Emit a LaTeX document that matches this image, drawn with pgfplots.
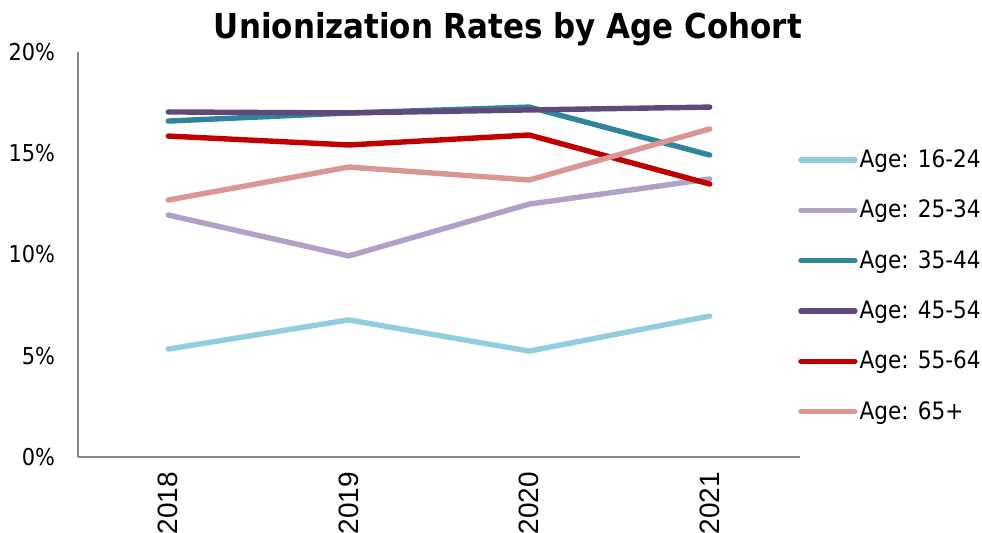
\documentclass[border=0pt]{standalone}
\usepackage{pgfplots}
\pgfplotsset{compat=1.18}
\usepackage{fontspec}
\setmainfont{DejaVu Sans Condensed}
\newfontfamily\yearfont{Liberation Sans}
\definecolor{c1}{RGB}{146,205,220}
\definecolor{c2}{RGB}{178,161,199}
\definecolor{c3}{RGB}{49,133,155}
\definecolor{c4}{RGB}{96,73,122}
\definecolor{c5}{RGB}{192,0,0}
\definecolor{c6}{RGB}{217,150,148}
\definecolor{axgray}{RGB}{134,134,134}

\begin{document}
\begin{tikzpicture}
\begin{axis}[
  scale only axis, width=361pt, height=202.5pt,
  xmin=-0.5, xmax=3.5, ymin=0, ymax=20,
  axis x line*=bottom, axis y line*=left,
  axis line style={axgray, line width=1pt, -},
  xtick={0,1,2,3}, xticklabels={2018,2019,2020,2021},
  ytick={0,5,10,15,20},
  yticklabel={\pgfmathprintnumber{\tick}\%},
  major tick length=0pt,
  /pgf/number format/assume math mode=true,
  x tick label style={font=\yearfont\fontsize{14}{14}\selectfont, rotate=90, anchor=east},
  xticklabel shift=4pt,
  y tick label style={font=\fontsize{11.6}{12}\selectfont},
  yticklabel shift=8pt,
  every axis plot/.append style={line width=2.7pt, line join=round, line cap=round},
  legend style={draw=none, fill=none, at={(rel axis cs:0.997,0.77)}, anchor=north west,
    font=\fontsize{12}{12.5}\selectfont, row sep=10.8pt, inner sep=0pt,
    nodes={inner xsep=1pt}},
  legend cell align=left,
  legend image code/.code={\draw[#1, line cap=round] (0pt,0pt) -- (27pt,0pt);},
  clip=false,
]
\coordinate (bl) at (rel axis cs:0,0);
\coordinate (tr) at (rel axis cs:1,1);
\addplot[c1] coordinates {(0,5.33)(1,6.77)(2,5.23)(3,6.96)};
\addlegendentry{Age: 16-24}
\addplot[c2] coordinates {(0,11.95)(1,9.93)(2,12.49)(3,13.73)};
\addlegendentry{Age: 25-34}
\addplot[c3] coordinates {(0,16.59)(1,16.99)(2,17.28)(3,14.91)};
\addlegendentry{Age: 35-44}
\addplot[c4] coordinates {(0,17.04)(1,16.99)(2,17.14)(3,17.28)};
\addlegendentry{Age: 45-54}
\addplot[c5] coordinates {(0,15.85)(1,15.41)(2,15.90)(3,13.48)};
\addlegendentry{Age: 55-64}
\addplot[c6] coordinates {(0,12.69)(1,14.32)(2,13.68)(3,16.20)};
\addlegendentry{Age: 65+}
\end{axis}
\node[font=\bfseries\fontsize{17.2}{18}\selectfont] at ([shift={(215pt,214pt)}]bl) {Unionization Rates by Age Cohort};
\pgfresetboundingbox
\path[use as bounding box] ([shift={(-39pt,-37.5pt)}]bl) rectangle ([shift={(91pt,26pt)}]tr);
\end{tikzpicture}
\end{document}
